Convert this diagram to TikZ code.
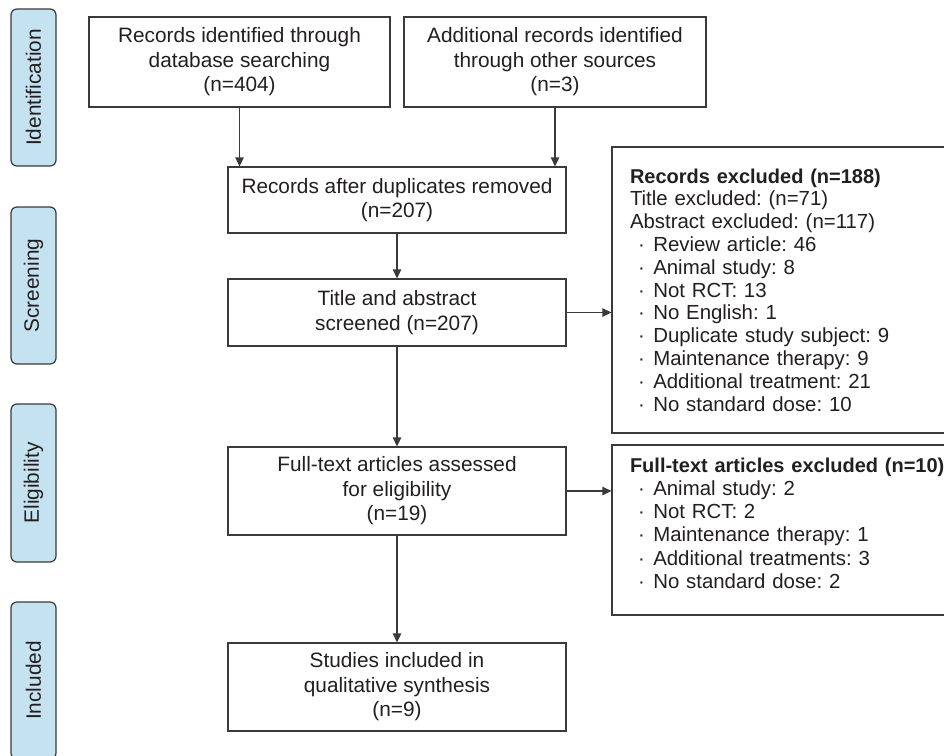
\documentclass[tikz,border=0pt]{standalone}
\usepackage{fontspec}
\setmainfont{Liberation Sans}
\usetikzlibrary{arrows.meta}
\definecolor{lineg}{HTML}{3A3A3A}
\definecolor{phasefill}{HTML}{C4E2F0}
\definecolor{txt}{HTML}{231F20}
\tikzset{
  flowbox/.style={draw=lineg, line width=1.3pt, fill=white, align=center, text=txt,
    font=\fontsize{20.8}{24.5}\selectfont, inner sep=2pt},
  sidebox/.style={draw=lineg, line width=1.3pt, fill=white, align=left, text=txt,
    font=\fontsize{20.4}{22.8}\selectfont, inner xsep=18pt, inner ysep=2pt,
    text width=342pt, minimum width=378pt},
  phase/.style={draw=lineg, line width=1.2pt, fill=phasefill, rounded corners=6pt,
    rotate=90, minimum height=45pt, text=txt, font=\fontsize{20.8}{24}\selectfont, inner sep=0pt},
  flowarrow/.style={draw=lineg, line width=1.3pt, -{Triangle[length=9pt,width=8.5pt]}}
}
\newcommand{\bul}{\hspace*{8pt}·\hspace*{8.5pt}}
\newcommand{\hd}[1]{{\fontsize{20}{22.8}\selectfont\bfseries #1}}
\begin{document}
\frenchspacing
\begin{tikzpicture}[x=1pt,y=-1pt]
\useasboundingbox (0,0) rectangle (944,755);
\fill[white] (0,0) rectangle (944,755);

% phase labels
\node[phase, minimum width=157pt] (pid) at (33.5,87.5) {Identification};
\node[phase, minimum width=157pt] (psc) at (33.5,285.5) {Screening};
\node[phase, minimum width=158pt] (pel) at (33.5,483) {Eligibility};
\node[phase, minimum width=157pt] (pin) at (33.5,680.5) {Included};

% flow boxes
\node[flowbox, minimum width=301pt, minimum height=90pt] (A) at (239.5,62)
  {Records identified through\\database searching\\(n=404)};
\node[flowbox, minimum width=302pt, minimum height=90pt] (B) at (555,62)
  {Additional records identified\\through other sources\\(n=3)};
\node[flowbox, minimum width=338pt, minimum height=66pt] (C) at (397,200)
  {Records after duplicates removed\\(n=207)};
\node[flowbox, minimum width=338pt, minimum height=67pt] (D) at (397,312.5)
  {Title and abstract\\screened (n=207)};
\node[flowbox, minimum width=338pt, minimum height=88pt] (E) at (397,491)
  {Full-text articles assessed\\for eligibility\\(n=19)};
\node[flowbox, minimum width=338pt, minimum height=88pt] (F) at (397,687)
  {Studies included in\\qualitative synthesis\\(n=9)};

% side boxes
\node[sidebox, minimum height=286pt] (R1) at (801,290)
  {\hd{Records excluded (n=188)}\\
   Title excluded: (n=71)\\
   Abstract excluded: (n=117)\\
   \bul Review article: 46\\
   \bul Animal study: 8\\
   \bul Not RCT: 13\\
   \bul No English: 1\\
   \bul Duplicate study subject: 9\\
   \bul Maintenance therapy: 9\\
   \bul Additional treatment: 21\\
   \bul No standard dose: 10};
\node[sidebox, minimum height=170pt, font=\fontsize{20.4}{23.3}\selectfont] (R2) at (801,530)
  {\hd{Full-text articles excluded (n=10)}\\
   \bul Animal study: 2\\
   \bul Not RCT: 2\\
   \bul Maintenance therapy: 1\\
   \bul Additional treatments: 3\\
   \bul No standard dose: 2\rule[-14pt]{0pt}{14pt}};

% connectors
\draw[flowarrow] (A.south) -- (A.south |- C.north);
\draw[flowarrow] (B.south) -- (B.south |- C.north);
\draw[flowarrow] (C.south) -- (D.north);
\draw[flowarrow] (D.east) -- (D.east -| R1.west);
\draw[flowarrow] (D.south) -- (E.north);
\draw[flowarrow] (E.east) -- (E.east -| R2.west);
\draw[flowarrow] (E.south) -- (F.north);
\end{tikzpicture}
\end{document}
